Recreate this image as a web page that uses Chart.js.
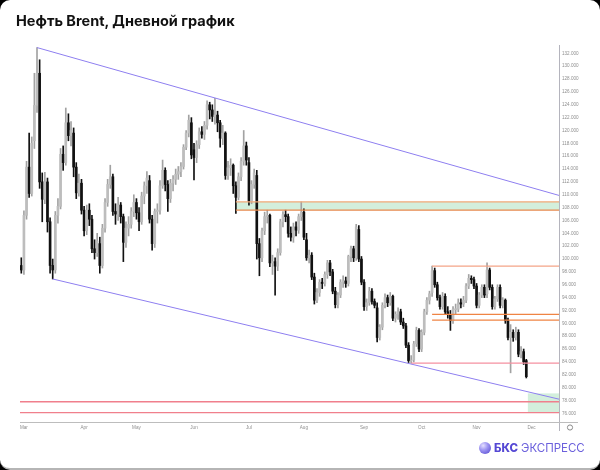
<!DOCTYPE html>
<html>
<head>
<meta charset="utf-8">
<script src="https://cdn.jsdelivr.net/npm/chart.js@4.4.0/dist/chart.umd.min.js"></script>
<style>
  html, body { margin: 0; padding: 0; background: #000; }
  #card { position: relative; width: 600px; height: 470px; background: #fff; border-radius: 10px; overflow: hidden; box-sizing: border-box; border-bottom: 2px solid #b5b5b5; }
  #title { position: absolute; left: 16px; top: 12px; font: 700 14.5px Inter, "Open Sans", sans-serif; color: #111; white-space: nowrap; }
  #logo { position: absolute; left: 479px; top: 440px; height: 16px; display: flex; align-items: center; white-space: nowrap; }
  #logo .ball { width: 12px; height: 12px; border-radius: 50%; background: radial-gradient(circle at 35% 30%, #e4e0ff 0%, #9d94f2 40%, #4c40cc 100%); margin-right: 3px; }
  #logo .b { font: 800 11.5px Inter, sans-serif; color: #5548d4; }
  #logo .e { font: 400 11.5px Inter, sans-serif; color: #6b60dc; margin-left: 3px; }
  canvas { position: absolute; left: 0; top: 0; }
</style>
</head>
<body>
<div id="card">
  <canvas id="chart" width="600" height="470"></canvas>
  <div id="title">Нефть Brent, Дневной график</div>
  <div id="logo"><div class="ball"></div><span class="b">БКС</span><span class="e">ЭКСПРЕСС</span></div>
</div>
<script>
'use strict'

// daily candles, 28 Feb .. late Nov
const opens = [
  99.0, 98.3, 106.8, 114.3, 110.2, 118.4, 123.9, 128.9, 112.0, 109.3,
  112.0, 105.8, 99.0, 98.3, 106.8, 108.2, 116.3, 115.0, 121.2, 119.2,
  119.6, 114.3, 110.3, 111.8, 107.6, 104.4, 107.6, 106.2, 101.6, 101.0,
  102.4, 99.0, 104.8, 108.8, 111.6, 112.8, 107.4, 107.0, 108.4, 106.6,
  102.6, 104.8, 105.4, 107.4, 108.8, 107.2, 105.8, 109.8, 111.4, 112.2,
  106.2, 102.4, 107.4, 107.6, 111.4, 113.8, 111.6, 109.4, 111.8, 112.4,
  113.2, 113.6, 114.4, 117.4, 119.6, 121.2, 117.0, 115.8, 117.8, 119.8,
  119.4, 120.8, 124.0, 123.2, 122.2, 122.4, 121.2, 118.8, 119.6, 113.0,
  114.2, 114.6, 111.4, 109.6, 112.8, 115.2, 117.6, 115.0, 109.0, 111.6,
  113.0, 102.4, 100.2, 104.4, 106.6, 106.8, 99.4, 99.6, 98.9, 101.0,
  105.8, 106.9, 106.6, 104.0, 103.4, 105.0, 104.5, 106.6, 107.3, 103.0,
  100.2, 100.6, 97.2, 93.6, 94.8, 96.4, 96.2, 97.6, 99.4, 98.0,
  95.0, 92.9, 94.4, 96.4, 96.6, 96.2, 100.4, 101.6, 100.2, 104.6,
  100.0, 96.4, 92.6, 93.2, 95.0, 93.4, 92.4, 87.8, 89.4, 92.8,
  94.0, 93.2, 94.2, 90.8, 91.4, 91.8, 90.2, 89.6, 86.6, 84.2,
  84.3, 86.8, 88.9, 86.0, 88.6, 91.8, 93.6, 94.8, 98.2, 96.0,
  94.0, 92.6, 94.2, 91.8, 91.4, 90.4, 92.2, 92.2, 93.2, 93.0,
  93.6, 95.8, 97.0, 96.8, 95.8, 92.8, 94.4, 95.6, 94.6, 98.3,
  95.6, 92.6, 93.8, 95.6, 92.8, 93.6, 90.4, 87.8, 88.6, 87.8,
  88.6, 85.2, 85.6, 84.2
];
const highs = [
  100.2, 107.5, 115.2, 119.6, 119.0, 128.9, 132.9, 131.0, 113.4, 113.5,
  112.6, 106.4, 100.0, 107.4, 109.4, 117.2, 117.6, 123.5, 122.6, 121.4,
  120.4, 115.0, 113.2, 112.4, 108.2, 108.4, 108.6, 106.8, 103.0, 104.0,
  103.4, 105.4, 109.4, 112.4, 114.6, 113.2, 108.6, 109.6, 108.8, 107.0,
  105.8, 106.6, 108.0, 110.0, 109.4, 108.0, 110.4, 112.0, 113.6, 113.0,
  106.8, 107.8, 108.6, 112.2, 115.4, 114.2, 112.2, 112.4, 113.0, 114.0,
  114.4, 115.0, 117.8, 120.0, 122.4, 122.0, 118.0, 118.4, 120.4, 120.6,
  121.4, 124.6, 124.4, 124.0, 125.0, 123.0, 121.6, 120.8, 119.8, 115.2,
  115.6, 114.8, 112.0, 113.4, 115.8, 120.0, 118.2, 115.8, 112.2, 114.0,
  113.8, 103.2, 104.8, 107.3, 107.6, 107.0, 100.6, 100.2, 101.6, 106.2,
  107.4, 107.6, 107.0, 105.0, 105.6, 105.8, 107.0, 108.9, 107.8, 104.0,
  101.4, 101.0, 97.8, 95.4, 96.8, 97.0, 98.0, 99.8, 99.8, 98.4,
  95.6, 94.8, 96.8, 97.4, 97.2, 100.6, 102.0, 102.0, 105.4, 105.2,
  100.4, 96.8, 93.8, 95.6, 95.4, 93.8, 93.2, 89.8, 93.2, 94.6,
  94.4, 94.8, 94.4, 91.8, 92.4, 92.2, 90.8, 90.0, 87.0, 85.0,
  87.2, 89.4, 89.2, 89.0, 92.2, 94.0, 95.0, 98.9, 98.6, 96.4,
  94.4, 94.8, 94.6, 92.6, 92.0, 92.6, 93.0, 93.8, 93.8, 94.2,
  96.2, 97.6, 97.4, 97.2, 96.2, 94.8, 96.0, 96.0, 99.4, 98.6,
  96.0, 94.2, 96.0, 96.0, 94.0, 93.8, 90.8, 89.8, 89.0, 89.4,
  89.0, 86.4, 86.0, 84.4
];
const lows = [
  97.8, 97.6, 106.2, 109.6, 109.8, 117.2, 122.8, 111.0, 105.8, 108.6,
  104.2, 97.8, 96.9, 97.8, 105.6, 107.8, 113.8, 114.6, 118.4, 117.6,
  112.8, 109.4, 109.8, 107.0, 103.6, 103.8, 105.2, 101.0, 100.0, 100.4,
  97.8, 98.6, 104.2, 108.2, 111.0, 106.8, 105.4, 106.0, 105.6, 99.6,
  101.8, 103.6, 104.8, 106.6, 106.2, 104.4, 105.4, 108.6, 110.2, 105.6,
  101.4, 101.8, 105.6, 107.0, 111.0, 110.6, 107.4, 108.8, 110.6, 111.6,
  112.4, 112.8, 114.0, 117.0, 119.0, 115.6, 112.3, 115.0, 117.2, 118.8,
  118.6, 120.2, 121.8, 121.4, 121.0, 119.8, 117.4, 117.8, 112.4, 112.4,
  113.0, 110.2, 107.1, 109.2, 112.2, 114.6, 114.6, 108.4, 108.6, 111.0,
  100.0, 97.4, 99.6, 103.8, 105.6, 98.8, 97.6, 94.4, 98.2, 100.6,
  105.0, 105.8, 103.4, 102.8, 102.6, 103.6, 104.0, 106.0, 103.0, 99.8,
  99.4, 96.8, 93.0, 93.2, 94.2, 95.4, 95.8, 97.0, 97.4, 94.6,
  92.4, 92.4, 94.0, 95.6, 95.6, 95.8, 99.6, 99.6, 99.8, 99.6,
  96.0, 92.0, 92.0, 92.8, 93.0, 92.4, 87.1, 87.4, 89.0, 92.4,
  92.6, 92.8, 90.4, 90.2, 90.6, 89.8, 89.2, 86.2, 83.9, 83.8,
  84.0, 86.4, 85.6, 85.6, 88.2, 91.4, 93.0, 94.2, 95.6, 93.6,
  92.2, 92.2, 91.4, 90.8, 88.9, 90.0, 91.4, 91.8, 92.4, 92.6,
  93.2, 95.4, 96.2, 95.4, 92.4, 92.4, 94.0, 94.0, 94.0, 95.2,
  92.2, 92.2, 93.4, 92.4, 92.4, 90.0, 87.4, 82.3, 87.2, 87.4,
  84.8, 84.6, 83.6, 81.5
];
const closes = [
  98.3, 106.8, 114.3, 110.2, 118.0, 123.9, 128.9, 112.0, 109.3, 112.0,
  105.8, 99.0, 98.3, 106.8, 108.2, 116.3, 115.0, 121.2, 119.2, 120.0,
  114.3, 110.3, 111.8, 107.6, 104.4, 107.6, 106.2, 101.6, 101.0, 102.8,
  99.0, 104.8, 108.8, 111.6, 112.8, 107.4, 107.0, 108.4, 106.6, 102.6,
  104.8, 105.4, 107.4, 108.8, 107.2, 105.8, 109.8, 111.4, 112.6, 106.2,
  102.4, 107.4, 107.6, 111.4, 113.8, 111.6, 109.4, 111.8, 112.4, 113.2,
  113.6, 114.4, 117.4, 119.6, 121.6, 116.2, 115.8, 117.8, 119.8, 119.4,
  120.8, 124.0, 123.2, 122.2, 122.4, 121.2, 118.8, 119.6, 113.0, 114.2,
  114.6, 111.4, 109.6, 112.8, 115.2, 117.6, 115.4, 109.0, 111.6, 113.4,
  102.4, 100.2, 104.4, 106.6, 106.8, 99.4, 99.6, 98.9, 101.0, 105.8,
  106.9, 106.6, 104.0, 103.4, 105.0, 104.5, 106.6, 107.3, 103.4, 100.2,
  100.6, 97.2, 93.6, 94.8, 96.4, 96.2, 97.6, 99.4, 98.0, 95.0,
  92.9, 94.4, 96.4, 96.6, 96.2, 100.4, 101.6, 100.2, 105.0, 100.0,
  96.4, 92.6, 93.2, 95.0, 93.4, 92.8, 87.8, 89.4, 92.8, 94.0,
  93.2, 94.2, 90.8, 91.4, 91.8, 90.2, 89.6, 86.6, 84.2, 84.3,
  86.8, 88.9, 86.0, 88.6, 91.8, 93.6, 94.6, 98.2, 96.0, 94.0,
  92.6, 94.2, 91.8, 91.4, 90.4, 92.2, 92.2, 93.2, 93.0, 93.6,
  95.8, 97.0, 96.8, 95.8, 92.8, 94.4, 95.6, 94.4, 98.3, 95.6,
  92.6, 93.8, 95.6, 92.8, 93.6, 90.4, 87.8, 88.6, 87.8, 88.6,
  85.2, 85.6, 84.0, 81.7
];

// month labels: index of first trading day of each month
const monthStarts = [1, 24, 44, 66, 87, 108, 131, 153, 174, 195];
const monthNames = ['Mar', 'Apr', 'May', 'Jun', 'Jul', 'Aug', 'Sep', 'Oct', 'Nov', 'Dec'];
const slotCount = 206; // trading days incl. empty space on the right

const yTicks = [76, 78, 80, 82, 84, 86, 88, 90, 92, 94, 96, 98, 100, 102, 104, 106, 108,
  110, 112, 114, 116, 118, 120, 122, 124, 126, 128, 130, 132];

// channel lines [startIdx, startPrice, endIdx, endPrice]
const channelTop = [6, 132.9, 205.5, 109.9];
const channelBottom = [12, 96.9, 205.5, 78.2];

// horizontal levels: price, first index, colour
const levelPrices = [108.9, 107.6, 98.9, 91.4, 90.5, 83.8, 77.8, 76.1];
const levelStarts = [82, 82, 157, 157, 157, 149, -0.5, -0.5];
const levelColors = ['#f2a877', '#e98a4f', '#f4a487', '#ef8444', '#ef8444', '#f590a0', '#f07f8c', '#f07f8c'];

// shaded zones: [fromIdx, low, high]
const zones = [[82, 107.6, 108.9], [193.6, 76.1, 79.1]];

const labels = [];
for (let i = 0; i < slotCount; i++) labels.push(i);

const UP = '#bdbdbd', UP_WICK = '#a2a2a2', DOWN = '#111111';

const bodies = opens.map((o, i) => {
  const c = closes[i];
  if (Math.abs(o - c) < 0.15) return [o - 0.08, o + 0.08];
  return [o, c];
});
const wicks = opens.map((o, i) => [lows[i], highs[i]]);
const bodyColors = opens.map((o, i) => closes[i] >= o ? UP : DOWN);
const wickColors = opens.map((o, i) => closes[i] >= o ? UP_WICK : DOWN);

const overlays = {
  id: 'overlays',
  beforeDatasetsDraw(chart) {
    const { ctx, chartArea, scales: { x, y } } = chart;
    ctx.save();
    ctx.fillStyle = 'rgba(196, 234, 208, 0.75)';
    zones.forEach(z => {
      const x0 = x.getPixelForValue(z[0]);
      const yTop = y.getPixelForValue(z[2]);
      const yBot = y.getPixelForValue(z[1]);
      ctx.fillRect(x0, yTop, chartArea.right - x0, yBot - yTop);
    });
    ctx.restore();
  },
  afterDatasetsDraw(chart) {
    const { ctx, chartArea, scales: { x, y } } = chart;
    ctx.save();
    ctx.lineWidth = 1.3;
    levelPrices.forEach((p, k) => {
      const x0 = Math.max(chartArea.left, x.getPixelForValue(levelStarts[k]));
      const py = y.getPixelForValue(p);
      ctx.strokeStyle = levelColors[k];
      ctx.beginPath();
      ctx.moveTo(x0, py);
      ctx.lineTo(chartArea.right, py);
      ctx.stroke();
    });

    ctx.strokeStyle = '#8e7ff0';
    ctx.lineWidth = 1;
    [channelTop, channelBottom].forEach(l => {
      ctx.beginPath();
      ctx.moveTo(x.getPixelForValue(l[0]), y.getPixelForValue(l[1]));
      ctx.lineTo(x.getPixelForValue(l[2]), y.getPixelForValue(l[3]));
      ctx.stroke();
    });

    // axis lines
    ctx.strokeStyle = '#b4b4bd';
    ctx.beginPath();
    ctx.moveTo(chartArea.right + 0.5, chartArea.top);
    ctx.lineTo(chartArea.right + 0.5, chartArea.bottom + 9);
    ctx.stroke();
    ctx.strokeStyle = '#bdbdbd';
    ctx.beginPath();
    ctx.moveTo(chartArea.left, chartArea.bottom + 0.5);
    ctx.lineTo(chartArea.right + 19, chartArea.bottom + 0.5);
    ctx.stroke();

    // settings gear
    ctx.strokeStyle = '#8a8a8a';
    ctx.lineWidth = 1;
    ctx.beginPath();
    ctx.arc(chartArea.right + 11, chartArea.bottom + 5.5, 2.6, 0, Math.PI * 2);
    ctx.stroke();
    ctx.restore();
  }
};

new Chart(document.getElementById('chart'), {
  type: 'bar',
  data: {
    labels: labels,
    datasets: [
      {
        data: bodies,
        backgroundColor: bodyColors,
        barThickness: 2,
        grouped: false,
        order: 0
      },
      {
        data: wicks,
        backgroundColor: wickColors,
        barThickness: 1,
        grouped: false,
        order: 1
      }
    ]
  },
  options: {
    responsive: false,
    animation: false,
    layout: { padding: { left: 20, top: 45, right: 0, bottom: 0 } },
    plugins: { legend: { display: false }, tooltip: { enabled: false } },
    scales: {
      x: {
        grid: { display: false, drawTicks: false },
        border: { display: false },
        ticks: {
          autoSkip: false,
          maxRotation: 0,
          padding: 3,
          color: '#8f8f8f',
          font: { family: '"Liberation Sans", Arial, sans-serif', size: 4.6 },
          callback: function (value, index) {
            const k = monthStarts.indexOf(index);
            return k >= 0 ? monthNames[k] : '';
          }
        },
        afterFit: function (scale) { scale.height = 48; }
      },
      y: {
        position: 'right',
        min: 74.65,
        max: 133.3,
        grid: { display: false, drawTicks: false },
        border: { display: false },
        afterBuildTicks: function (scale) {
          scale.ticks = yTicks.map(v => ({ value: v }));
        },
        ticks: {
          padding: 3,
          color: '#8f8f8f',
          font: { family: '"Liberation Sans", Arial, sans-serif', size: 4.6 },
          callback: v => v.toFixed(3)
        },
        afterFit: function (scale) { scale.width = 41; }
      }
    }
  },
  plugins: [overlays]
});
</script>
</body>
</html>
